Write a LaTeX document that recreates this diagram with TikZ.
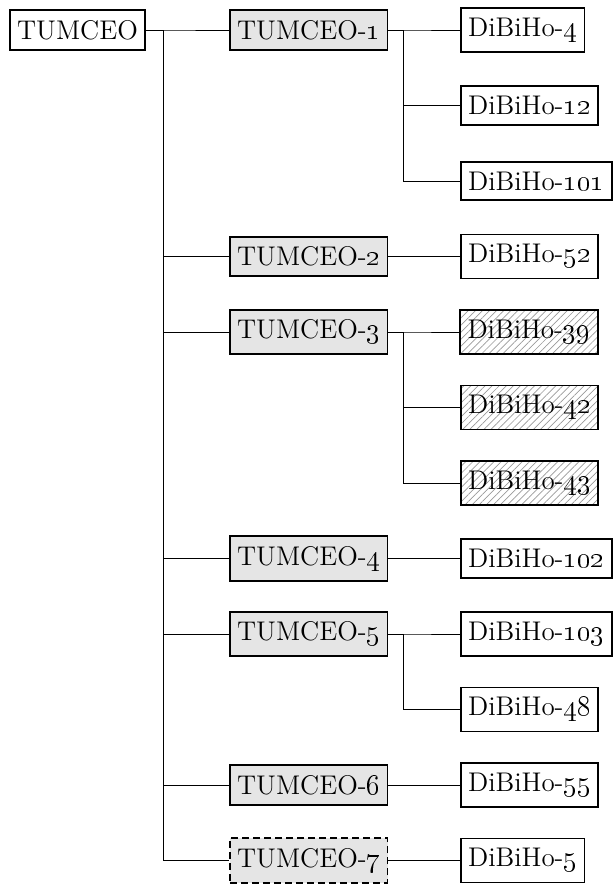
\documentclass[tikz,border=0pt]{standalone}
\usetikzlibrary{patterns.meta}
\newcommand\osn[1]{\oldstylenums{#1}}
\begin{document}
\begin{tikzpicture}[x=0.5pt,y=-0.5pt,
  box/.style={draw, line width=0.9pt, inner xsep=3.6pt, inner ysep=5pt,
    anchor=west, font=\fontsize{13.5}{16}\selectfont},
  ceo/.style={box, fill=black!10},
  ceodash/.style={ceo, dash pattern=on 3.5pt off 2pt},
  hatched/.style={box, pattern={Lines[angle=45,distance=2.5pt,line width=0.35pt]},
    pattern color=black!40},
  link/.style={line width=0.45pt}]
\useasboundingbox (0,0) rectangle (615,885);

% root and first level
\node[box] (root) at (9,30) {TUMCEO};
\node[ceo] (t1) at (229,30)    {TUMCEO-\osn{1}};
\node[ceo] (t2) at (229,256.5) {TUMCEO-\osn{2}};
\node[ceo] (t3) at (229,332)   {TUMCEO-\osn{3}};
\node[ceo] (t4) at (229,558.5) {TUMCEO-\osn{4}};
\node[ceo] (t5) at (229,634)   {TUMCEO-\osn{5}};
\node[ceo] (t6) at (229,785)   {TUMCEO-\osn{6}};
\node[ceodash] (t7) at (229,860.5) {TUMCEO-\osn{7}};

% second level
\node[box] (d4)   at (460,30)    {DiBiHo-\osn{4}};
\node[box] (d12)  at (460,105.5) {DiBiHo-\osn{12}};
\node[box] (d101) at (460,181)   {DiBiHo-\osn{101}};
\node[box] (d52)  at (460,256.5) {DiBiHo-\osn{52}};
\node[hatched] (d39) at (460,332)   {DiBiHo-\osn{39}};
\node[hatched] (d42) at (460,407.5) {DiBiHo-\osn{42}};
\node[hatched] (d43) at (460,483)   {DiBiHo-\osn{43}};
\node[box] (d102) at (460,558.5) {DiBiHo-\osn{102}};
\node[box] (d103) at (460,634)   {DiBiHo-\osn{103}};
\node[box] (d48)  at (460,709.5) {DiBiHo-\osn{48}};
\node[box] (d55)  at (460,785)   {DiBiHo-\osn{55}};
\node[box] (d5)   at (460,860.5) {DiBiHo-\osn{5}};

% forked connectors
\foreach \c in {t1,t2,t3,t4,t5,t6,t7}
  \draw[link] (root.east) -- ++(17,0) |- (\c.west);
\foreach \p/\c in {t1/d4,t1/d12,t1/d101,t2/d52,t3/d39,t3/d42,t3/d43,
                   t4/d102,t5/d103,t5/d48,t6/d55,t7/d5}
  \draw[link] (\p.east) -- ++(15,0) |- (\c.west);
\end{tikzpicture}
\end{document}
